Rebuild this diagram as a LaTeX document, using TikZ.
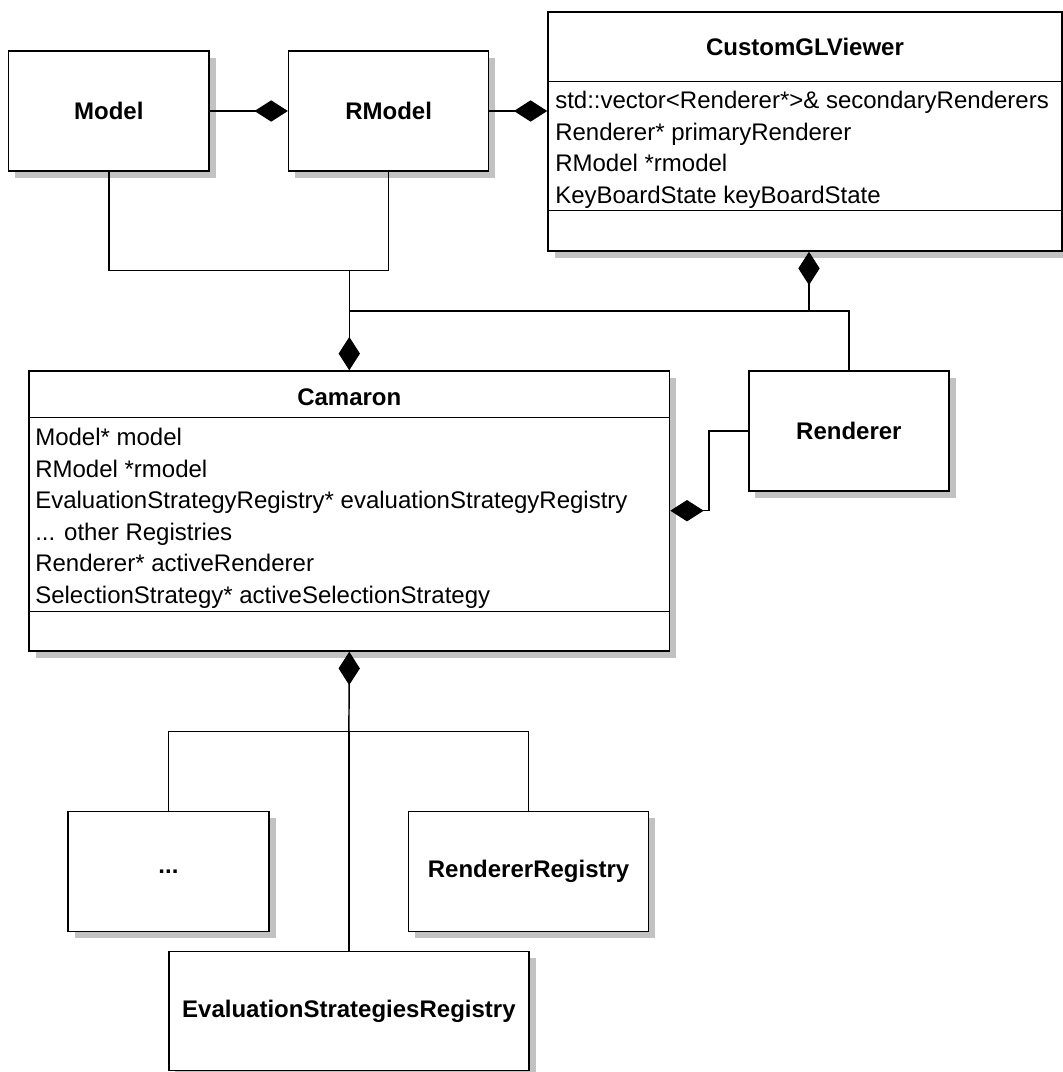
\documentclass[tikz,border=0pt]{standalone}
\usepackage{fontspec}
\setmainfont{Liberation Sans}
\usetikzlibrary{arrows.meta,shadows}

\begin{document}
\begin{tikzpicture}[
  x=0.75pt, y=-0.75pt,
  font=\fontsize{18pt}{22pt}\selectfont,
  box/.style={draw, fill=white, line width=1.1pt, inner sep=0pt,
    general shadow={fill=black!24, shadow xshift=5pt, shadow yshift=-5pt}},
  clsname/.style={font=\fontsize{18pt}{22pt}\selectfont\bfseries, inner sep=0pt},
  member/.style={anchor=base west, inner sep=0pt},
  sep/.style={line width=1.1pt},
  comp/.style={-{Diamond[length=25pt, width=16pt]}, line width=1.1pt}
]
\useasboundingbox (0,0) rectangle (1063,1072);

\node[box, clsname, minimum width=150.3pt, minimum height=90pt] (model) at (108.8,111) {Model};
\node[box, clsname, minimum width=150pt, minimum height=90pt] (rmodel) at (388.6,111) {RModel};

\node[box, minimum width=385.5pt, minimum height=179.25pt] (cgv) at (805,131.5) {};
\node[clsname] (cgvtitle) at (805,47) {CustomGLViewer};
\draw[sep] ([yshift=-52.5pt]cgv.north west) -- ([yshift=-52.5pt]cgv.north east);
\draw[sep] ([yshift=-149.25pt]cgv.north west) -- ([yshift=-149.25pt]cgv.north east);
\node[member] (cgvm1) at (555,108.5) {std::vector<Renderer*>\& secondaryRenderers};
\node[member] (cgvm2) at (555,140.2) {Renderer* primaryRenderer};
\node[member] (cgvm3) at (555,171.9) {RModel *rmodel};
\node[member] (cgvm4) at (555,203.6) {KeyBoardState keyBoardState};

\node[box, minimum width=480.45pt, minimum height=210pt] (camaron) at (349.3,511) {};
\node[clsname] (camtitle) at (349.3,397) {Camaron};
\draw[sep] ([yshift=-35.25pt]camaron.north west) -- ([yshift=-35.25pt]camaron.north east);
\draw[sep] ([yshift=-180.75pt]camaron.north west) -- ([yshift=-180.75pt]camaron.north east);
\node[member] (camm1) at (35,445.5) {Model* model};
\node[member] (camm2) at (35,477.1) {RModel *rmodel};
\node[member] (camm3) at (35,508.7) {EvaluationStrategyRegistry* evaluationStrategyRegistry};
\node[member] (camm4) at (35,540.3) {... other Registries};
\node[member] (camm5) at (35,571.9) {Renderer* activeRenderer};
\node[member] (camm6) at (35,603.5) {SelectionStrategy* activeSelectionStrategy};

\node[box, clsname, minimum width=150.2pt, minimum height=90pt] (renderer) at (848.9,431) {Renderer};

\node[box, clsname, minimum width=150.7pt, minimum height=90pt] (others) at (168.5,871.7) {...};
\node[box, clsname, minimum width=180.2pt, minimum height=90pt] (rendreg) at (528.6,871.7) {RendererRegistry};
\node[box, clsname, minimum width=270.2pt, minimum height=89.25pt] (evalreg) at (348.9,1011.2) {EvaluationStrategiesRegistry};

\coordinate (mjoin) at (349.3,270.7);
\coordinate (vjoin) at (809,311);
\coordinate (rbend) at (709,510.7);
\coordinate (rjoin) at (348.9,731.7);

\draw[comp] (model) -- (rmodel);
\draw[comp] (rmodel.east) -- (rmodel.east -| cgv.west);
\draw[sep] (model.south) |- (mjoin) -| (rmodel.south);
\draw[comp] (mjoin) -- (camaron.north);
\draw[comp] (vjoin) -- (vjoin |- cgv.south);
\draw[sep] (camaron.north |- vjoin) -| (renderer.north);
\draw[comp] (renderer.west) -| (rbend) -- (rbend -| camaron.east);
\draw[comp] (rjoin) -- (camaron.south);
\draw[sep] (others.north) |- (rjoin) -| (rendreg.north);
\draw[sep] (rjoin) -- (evalreg.north);

\end{tikzpicture}
\end{document}
